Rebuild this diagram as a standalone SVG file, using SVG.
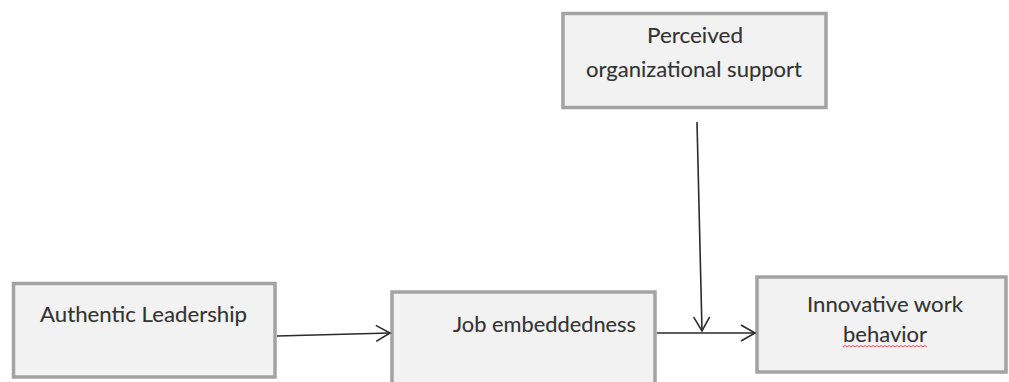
<svg xmlns="http://www.w3.org/2000/svg" width="1009" height="382" viewBox="0 0 1009 382">
<style>
.box{fill:#f2f2f2;stroke:#a3a3a3;stroke-width:3.5}
.lbl{font-family:Lato,"Open Sans","Liberation Sans",sans-serif;font-size:21px;fill:#333;stroke:#333;stroke-width:0.12}
.conn{stroke:#2a2a2a;stroke-width:1.6;fill:none}
.wavy{stroke:#e05050;stroke-width:1;fill:none}
</style>
<defs>
<marker id="arr" markerUnits="userSpaceOnUse" orient="auto" markerWidth="20" markerHeight="20" viewBox="-16 -10 20 20" refX="0" refY="0">
<path d="M-14,-8 L0,0 L-14,8" fill="none" stroke="#2a2a2a" stroke-width="1.6"/>
</marker>
</defs>
<rect width="1009" height="382" fill="#ffffff"/>
<g id="pos">
<rect class="box" x="563" y="13.5" width="263" height="94"/>
<text class="lbl" x="647" y="43" textLength="96" lengthAdjust="spacingAndGlyphs">Perceived</text>
<text class="lbl" x="586" y="77" textLength="216" lengthAdjust="spacingAndGlyphs">organizational support</text>
</g>
<g id="al">
<rect class="box" x="13.5" y="283.5" width="261.5" height="93.5"/>
<text class="lbl" x="40" y="322" textLength="207" lengthAdjust="spacingAndGlyphs">Authentic Leadership</text>
</g>
<g id="je">
<rect class="box" x="392" y="292" width="263" height="100"/>
<text class="lbl" x="453" y="332" textLength="183" lengthAdjust="spacingAndGlyphs">Job embeddedness</text>
</g>
<g id="iwb">
<rect class="box" x="757" y="277" width="249" height="95"/>
<text class="lbl" x="807" y="312" textLength="156" lengthAdjust="spacingAndGlyphs">Innovative work</text>
<text class="lbl" x="843" y="342" textLength="84" lengthAdjust="spacingAndGlyphs">behavior</text>
<path class="wavy" d="M843,347 l2,-1.5 l2,1.5 l2,-1.5 l2,1.5 l2,-1.5 l2,1.5 l2,-1.5 l2,1.5 l2,-1.5 l2,1.5 l2,-1.5 l2,1.5 l2,-1.5 l2,1.5 l2,-1.5 l2,1.5 l2,-1.5 l2,1.5 l2,-1.5 l2,1.5 l2,-1.5 l2,1.5 l2,-1.5 l2,1.5 l2,-1.5 l2,1.5 l2,-1.5 l2,1.5 l2,-1.5 l2,1.5 l2,-1.5 l2,1.5 l2,-1.5 l2,1.5 l2,-1.5 l2,1.5 l2,-1.5 l2,1.5 l2,-1.5 l2,1.5 l2,-1.5 l2,1.5"/>
</g>
<g id="connectors">
<line class="conn" x1="277" y1="336" x2="390" y2="333" marker-end="url(#arr)"/>
<line class="conn" x1="657" y1="333" x2="755" y2="333" marker-end="url(#arr)"/>
<line class="conn" x1="697" y1="122" x2="702" y2="331" marker-end="url(#arr)"/>
</g>
</svg>
